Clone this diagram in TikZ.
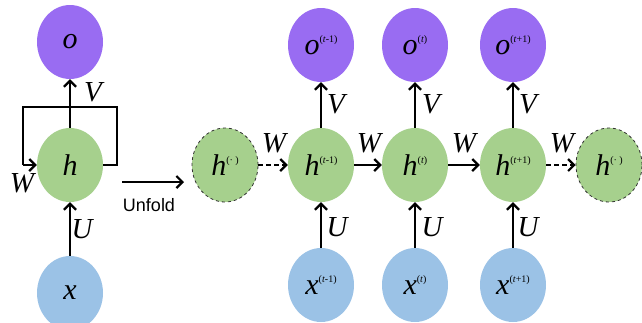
\documentclass[tikz,border=0pt]{standalone}
\usepackage{fontspec}
\setmainfont{Liberation Serif}
\setsansfont{Liberation Sans}
\usetikzlibrary{shapes.geometric,arrows.meta}
\definecolor{opurple}{RGB}{153,108,242}
\definecolor{hgreen}{RGB}{166,208,141}
\definecolor{xblue}{RGB}{155,194,230}
\newcommand{\biglet}[1]{\fontsize{30}{30}\selectfont\textit{#1}}
\newcommand{\nl}[2]{\fontsize{30}{30}\selectfont\textit{#1}\raisebox{12pt}{\fontsize{10}{10}\selectfont #2}}
\tikzset{
  cell/.style={ellipse, minimum width=66pt, minimum height=74pt, inner sep=0pt},
  onode/.style={cell, fill=opurple},
  hnode/.style={cell, fill=hgreen},
  hdash/.style={cell, fill=hgreen, draw=black!80, dashed, line width=0.8pt},
  xnode/.style={cell, fill=xblue},
  arr/.style={line width=2.6pt, -{Straight Barb[length=6pt,width=12pt,line width=2.2pt]}},
  darr/.style={arr, dash pattern=on 5pt off 3pt},
  wl/.style={font=\fontsize{29}{29}\selectfont\itshape, inner sep=0pt},
}
\begin{document}
\begin{tikzpicture}[x=1pt,y=-1pt]
\useasboundingbox (0,0) rectangle (642,322);
% folded
\node[onode] (o) at (70,42) {\biglet{o}};
\node[hnode] (h) at (70,165) {\biglet{h}};
\node[xnode] (x) at (70,293) {\biglet{x}};
\draw[arr] (x) -- (h);
\draw[arr] (h) -- (o);
\coordinate (lr) at (117,165);
\coordinate (tr) at (117,107);
\coordinate (tl) at (23,107);
\coordinate (ll) at (23,165);
\draw[line width=2.6pt] (h.east) -- (lr) -- (tr) -- (tl) -- (ll);
\draw[arr] (ll) -- (h.west);
\node[wl] (lV) at (93,92) {V};
\node[wl] (lW) at (22,183) {W};
\node[wl] (lU) at (82,229) {U};
% unfold arrow
\coordinate (ua) at (122,182);
\coordinate (ub) at (184,182);
\draw[arr, line width=2pt] (ua) -- (ub);
\node[font=\sffamily\fontsize{18}{18}\selectfont, inner sep=0pt] (unf) at (149,205) {Unfold};
% unfolded
\node[hdash] (hp) at (225,165) {\nl{h}{(\textperiodcentered\ )}};
\node[hnode] (h1) at (321,165) {\nl{h}{(\textit{t}-1)}};
\node[hnode] (h2) at (415,165) {\nl{h}{(\textit{t})}};
\node[hnode] (h3) at (513,165) {\nl{h}{(\textit{t}+1)}};
\node[hdash] (hn) at (609,165) {\nl{h}{(\textperiodcentered\ )}};
\node[onode] (o1) at (321,45) {\nl{o}{(\textit{t}-1)}};
\node[onode] (o2) at (415,45) {\nl{o}{(\textit{t})}};
\node[onode] (o3) at (513,45) {\nl{o}{(\textit{t}+1)}};
\node[xnode] (x1) at (321,285) {\nl{x}{(\textit{t}-1)}};
\node[xnode] (x2) at (415,285) {\nl{x}{(\textit{t})}};
\node[xnode] (x3) at (513,285) {\nl{x}{(\textit{t}+1)}};
\draw[darr] (hp) -- (h1);
\draw[arr] (h1) -- (h2);
\draw[arr] (h2) -- (h3);
\draw[darr] (h3) -- (hn);
\draw[arr] (h1) -- (o1);
\draw[arr] (h2) -- (o2);
\draw[arr] (h3) -- (o3);
\draw[arr] (x1) -- (h1);
\draw[arr] (x2) -- (h2);
\draw[arr] (x3) -- (h3);
\node[wl] (W1) at (274,143) {W};
\node[wl] (W2) at (369,143) {W};
\node[wl] (W3) at (464,143) {W};
\node[wl] (W4) at (562,143) {W};
\node[wl] (V1) at (336,104) {V};
\node[wl] (V2) at (431,104) {V};
\node[wl] (V3) at (528,104) {V};
\node[wl] (U1) at (337,227) {U};
\node[wl] (U2) at (432,227) {U};
\node[wl] (U3) at (528,227) {U};
\end{tikzpicture}
\end{document}
